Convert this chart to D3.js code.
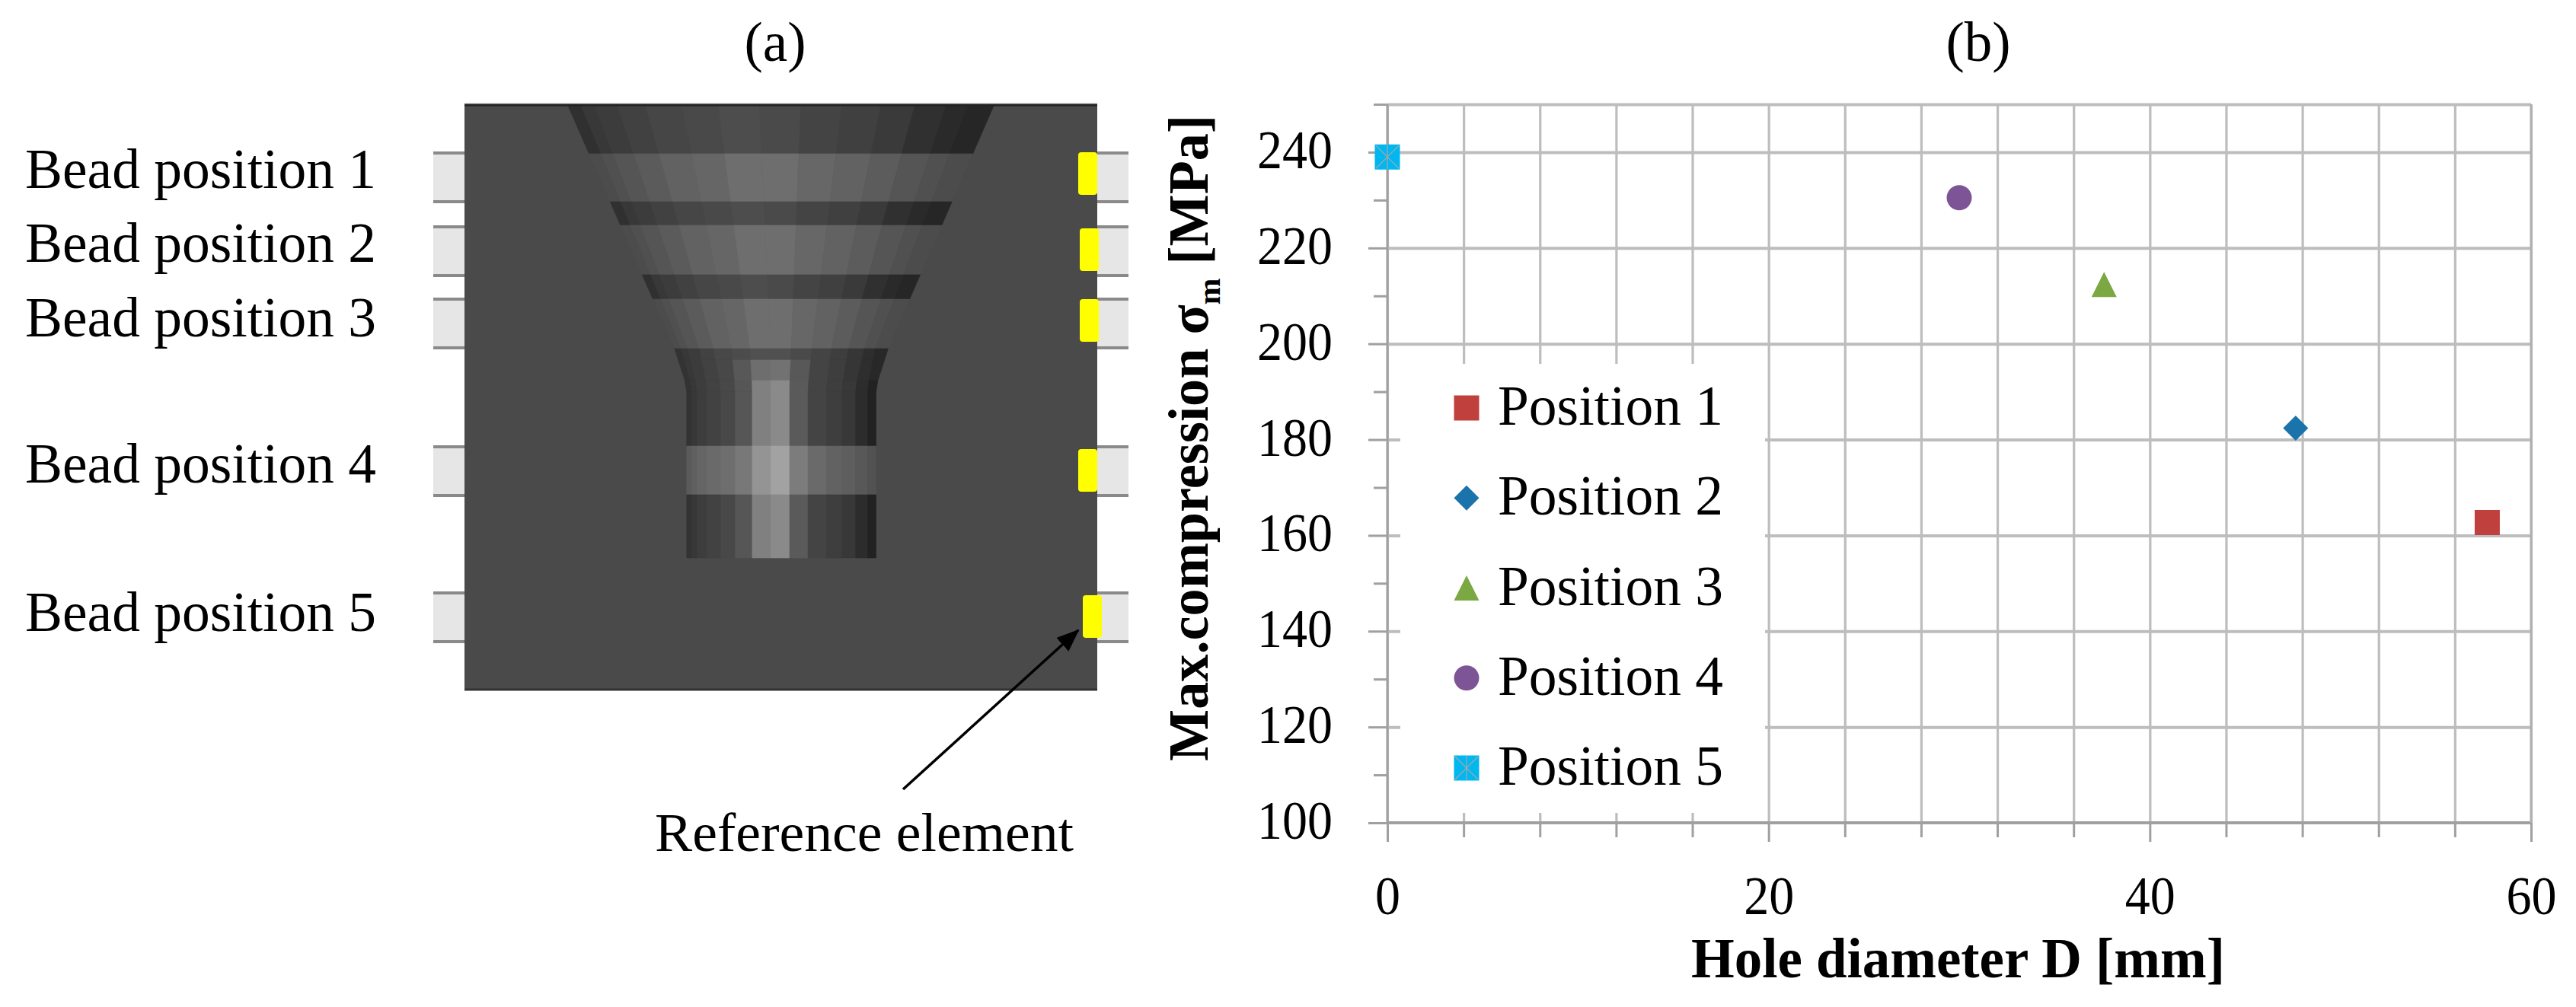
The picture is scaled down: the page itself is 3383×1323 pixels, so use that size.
<!DOCTYPE html>
<html>
<head>
<meta charset="utf-8">
<script src="https://d3js.org/d3.v7.min.js"></script>
<style>
  body { margin: 0; background: #fff; }
  text { font-family: "Liberation Serif", serif; fill: #000; }
</style>
</head>
<body>
<svg id="chart" width="3383" height="1323"></svg>
<script>
//chart data
var positions = ["Position 1", "Position 2", "Position 3", "Position 4", "Position 5"];
var holeDiameter = [57.7, 47.65, 37.6, 30.0, 0];
var maxCompression = [162.7, 182.4, 212.4, 230.5, 239];
var markerShapes = ["square", "diamond", "triangle", "circle", "star"];
var markerColors = ["#c0403d", "#1a73ab", "#7ba843", "#7d5596", "#00b7ef"];
var xMajor = [0, 20, 40, 60];
var xMinor = [4, 8, 12, 16, 24, 28, 32, 36, 44, 48, 52, 56];
var yMajor = [100, 120, 140, 160, 180, 200, 220, 240];
var yMinor = [110, 130, 150, 170, 190, 210, 230, 250];
var beadLabels = ["Bead position 1", "Bead position 2", "Bead position 3", "Bead position 4", "Bead position 5"];
var beadLabelBase = [247, 344, 442, 634, 829];

//panel (a) geometry in plate units
var beadTabs = [[64, 128], [161, 225], [256, 320], [450, 514], [642, 706]];
var refX = [806, 808, 808, 806, 812];
var refY = [63, 163, 256, 453, 645];
var coneTop = [135.5, 152.8, 170.6, 200.6, 237.6, 285.4, 333.2, 387.4, 441.7, 495.9, 546.9, 591.5, 633, 661.7, 695.5];
var shaftEdges = [291.8, 298.2, 305.2, 318.6, 336.4, 355.6, 377.9, 402.1, 427, 451.2, 475.5, 495.9, 513.7, 529.7, 540.5];
var coneDark = ["#303030", "#383838", "#3c3c3c", "#414141", "#464646", "#494949", "#4d4d4d", "#4a4a4a", "#444444", "#404040", "#3a3a3a", "#303030", "#2a2a2a", "#262626"];
var coneLight = ["#4c4c4c", "#505050", "#555555", "#5b5b5b", "#626262", "#666666", "#6e6e6e", "#6e6e6e", "#676767", "#626262", "#5c5c5c", "#555555", "#505050", "#4c4c4c"];
var neckDark = ["#333333", "#383838", "#3c3c3c", "#424242", "#484848", "#4c4c4c", "#505050", "#505050", "#4a4a4a", "#444444", "#3e3e3e", "#363636", "#2e2e2e", "#282828"];
var neckMid = ["#333333", "#383838", "#3c3c3c", "#424242", "#484848", "#585858", "#6e6e6e", "#727272", "#585858", "#444444", "#3e3e3e", "#363636", "#2e2e2e", "#282828"];
var shaftDark = ["#333333", "#383838", "#3d3d3d", "#424242", "#484848", "#565656", "#808080", "#8a8a8a", "#5a5a5a", "#444444", "#3e3e3e", "#383838", "#2c2c2c", "#222222"];
var shaftLight = ["#5a5a5a", "#606060", "#656565", "#6a6a6a", "#6e6e6e", "#787878", "#949494", "#a2a2a2", "#7c7c7c", "#6a6a6a", "#626262", "#5e5e5e", "#585858", "#525252"];

var svg = d3.select("#chart");

//panel (a)
var plateX = d3.scaleLinear().domain([0, 831]).range([610, 1441]);
var plateY = d3.scaleLinear().domain([0, 770]).range([137, 907]);

var a = svg.append("g");

//bead tabs behind the plate
[[-41, 0], [831, 872]].forEach(function (side) {
  beadTabs.forEach(function (t) {
    a.append("rect")
      .attr("x", plateX(side[0])).attr("y", plateY(t[0]))
      .attr("width", plateX(side[1]) - plateX(side[0]))
      .attr("height", plateY(t[1]) - plateY(t[0]))
      .attr("fill", "#e6e6e6");
    t.forEach(function (v) {
      a.append("line")
        .attr("x1", plateX(side[0])).attr("x2", plateX(side[1]))
        .attr("y1", plateY(v)).attr("y2", plateY(v))
        .attr("stroke", "#8a8a8a").attr("stroke-width", 4);
    });
  });
});

a.append("rect")
  .attr("x", plateX(0)).attr("y", plateY(0))
  .attr("width", 831).attr("height", 770)
  .attr("fill", "#4a4a4a");

//cone narrows to half its width at the neck
var coneToNeck = d3.scaleLinear().domain([135.5, 695.5]).range([275.8, 556.4]);
var coneEdgeAt = function (i, py) {
  var t = (py - 1) / (321 - 1);
  return coneTop[i] + (coneToNeck(coneTop[i]) - coneTop[i]) * t;
};
var neckEdgeAt = function (i, blend) {
  var n = coneToNeck(coneTop[i]);
  return n + (shaftEdges[i] - n) * blend;
};
var facet = function (x0, x1, x2, x3, y0, y1, color) {
  var pts = [[x0, y0], [x1, y0], [x2, y1], [x3, y1]]
    .map(function (p) { return [plateX(p[0]), plateY(p[1])]; });
  a.append("polygon").attr("points", pts.join(" "))
    .attr("fill", color).attr("stroke", color).attr("stroke-width", 0.6);
};

//cone rows, alternating dark and light bands
var coneRows = [[1, 65, coneDark], [65, 128, coneLight], [128, 159, coneDark], [159, 224, coneLight], [224, 256, coneDark], [256, 321, coneLight]];
coneRows.forEach(function (r) {
  r[2].forEach(function (c, i) {
    facet(coneEdgeAt(i, r[0]), coneEdgeAt(i + 1, r[0]), coneEdgeAt(i + 1, r[1]), coneEdgeAt(i, r[1]), r[0], r[1], c);
  });
});

//neck rows bend from the cone into the shaft
var neckRows = [[321, 336, 0, 0.3, neckDark], [336, 363, 0.3, 0.85, neckMid], [363, 378, 0.85, 1, shaftDark]];
neckRows.forEach(function (r) {
  r[4].forEach(function (c, i) {
    facet(neckEdgeAt(i, r[2]), neckEdgeAt(i + 1, r[2]), neckEdgeAt(i + 1, r[3]), neckEdgeAt(i, r[3]), r[0], r[1], c);
  });
});

//straight shaft
var shaftRows = [[378, 449, shaftDark], [449, 513, shaftLight], [513, 596, shaftDark]];
shaftRows.forEach(function (r) {
  r[2].forEach(function (c, i) {
    facet(shaftEdges[i], shaftEdges[i + 1], shaftEdges[i + 1], shaftEdges[i], r[0], r[1], c);
  });
});

//plate edges
a.append("line").attr("x1", plateX(0)).attr("x2", plateX(831)).attr("y1", plateY(-1)).attr("y2", plateY(-1))
  .attr("stroke", "#d8d8d8").attr("stroke-width", 2);
a.append("line").attr("x1", plateX(0)).attr("x2", plateX(831)).attr("y1", plateY(1)).attr("y2", plateY(1))
  .attr("stroke", "#222").attr("stroke-width", 3);
a.append("line").attr("x1", plateX(0)).attr("x2", plateX(831)).attr("y1", plateY(769)).attr("y2", plateY(769))
  .attr("stroke", "#333").attr("stroke-width", 3);

//reference elements
refX.forEach(function (rx, i) {
  a.append("rect")
    .attr("x", plateX(rx)).attr("y", plateY(refY[i]))
    .attr("width", 25).attr("height", 56).attr("rx", 4)
    .attr("fill", "#ffff00");
});

a.selectAll(".bead-label").data(beadLabels).enter().append("text")
  .attr("class", "bead-label")
  .attr("x", 33)
  .attr("y", function (d, i) { return beadLabelBase[i]; })
  .attr("font-size", 74)
  .attr("textLength", 461).attr("lengthAdjust", "spacingAndGlyphs")
  .text(function (d) { return d; });

//arrow to the reference element
svg.append("defs").append("marker")
  .attr("id", "arrowhead").attr("markerUnits", "userSpaceOnUse")
  .attr("viewBox", "0 0 30 24").attr("refX", 28).attr("refY", 12)
  .attr("markerWidth", 30).attr("markerHeight", 24).attr("orient", "auto")
  .append("path").attr("d", "M0,0L30,12L0,24Z").attr("fill", "#000");
a.append("line")
  .attr("x1", 1186).attr("y1", 1037).attr("x2", 1416).attr("y2", 828)
  .attr("stroke", "#000").attr("stroke-width", 3.5)
  .attr("marker-end", "url(#arrowhead)");

a.append("text").attr("x", 860).attr("y", 1118)
  .attr("font-size", 72).attr("textLength", 550).attr("lengthAdjust", "spacingAndGlyphs")
  .text("Reference element");

//panel titles
svg.append("text").attr("x", 1018).attr("y", 80).attr("text-anchor", "middle").attr("font-size", 73).text("(a)");
svg.append("text").attr("x", 2598).attr("y", 80).attr("text-anchor", "middle").attr("font-size", 73).text("(b)");

//panel (b)
var x = d3.scaleLinear().domain([0, 60]).range([1822, 3324]);
var y = d3.scaleLinear().domain([100, 250]).range([1081, 137]);
var plotW = x(60) - x(0), plotH = y(100) - y(250);

var b = svg.append("g");

var styleAxis = function (g, color, width) {
  g.select(".domain").remove();
  g.selectAll("line").attr("stroke", color).attr("stroke-width", width);
};

//grid
b.append("g").attr("transform", "translate(0," + y(100) + ")")
  .call(d3.axisBottom(x).tickValues(xMajor.concat(xMinor)).tickSize(-plotH).tickFormat(""))
  .call(styleAxis, "#bdbdbd", 3.2);
b.append("g").attr("transform", "translate(" + x(0) + ",0)")
  .call(d3.axisLeft(y).tickValues(yMajor.slice(1).concat([250])).tickSize(-plotW).tickFormat(""))
  .call(styleAxis, "#bdbdbd", 4);

//legend box hides the grid behind it
b.append("rect").attr("x", 1839).attr("y", 478).attr("width", 479).attr("height", 590).attr("fill", "#fff");

//tick labels squeezed a little, the original face is narrower
var styleLabels = function (g) {
  g.selectAll("text")
    .attr("font-size", 71).attr("font-family", "Liberation Serif").attr("fill", "#000")
    .attr("lengthAdjust", "spacingAndGlyphs")
    .attr("textLength", function (d) { return String(d).length * 33; });
};

//axes
b.append("g").attr("transform", "translate(0," + y(100) + ")")
  .call(d3.axisBottom(x).tickValues(xMajor).tickSize(25).tickPadding(45))
  .call(styleAxis, "#a0a0a0", 3)
  .call(styleLabels);
b.append("g").attr("transform", "translate(0," + y(100) + ")")
  .call(d3.axisBottom(x).tickValues(xMinor).tickSize(19).tickFormat(""))
  .call(styleAxis, "#a0a0a0", 3);
b.append("g").attr("transform", "translate(" + x(0) + ",0)")
  .call(d3.axisLeft(y).tickValues(yMajor).tickSize(25).tickPadding(47))
  .call(styleAxis, "#a0a0a0", 3)
  .call(styleLabels)
  .selectAll("text").attr("dy", "0.29em");
b.append("g").attr("transform", "translate(" + x(0) + ",0)")
  .call(d3.axisLeft(y).tickValues(yMinor).tickSize(18).tickFormat(""))
  .call(styleAxis, "#a0a0a0", 3);
b.append("line").attr("x1", x(0)).attr("x2", x(0)).attr("y1", y(250)).attr("y2", y(100)).attr("stroke", "#a0a0a0").attr("stroke-width", 3);
b.append("line").attr("x1", x(0)).attr("x2", x(60)).attr("y1", y(100)).attr("y2", y(100)).attr("stroke", "#a0a0a0").attr("stroke-width", 4);
b.append("line").attr("x1", x(60)).attr("x2", x(60)).attr("y1", y(250)).attr("y2", y(100)).attr("stroke", "#b0b0b0").attr("stroke-width", 3);

//axis titles
b.append("text").attr("x", 2221).attr("y", 1284)
  .attr("font-size", 74).attr("font-weight", "bold")
  .attr("textLength", 701).attr("lengthAdjust", "spacingAndGlyphs")
  .text("Hole diameter D [mm]");

var yTitle = b.append("text")
  .attr("transform", "translate(1586,1000) rotate(-90)")
  .attr("font-size", 73).attr("font-weight", "bold")
  .attr("textLength", 849).attr("lengthAdjust", "spacingAndGlyphs");
yTitle.append("tspan").text("Max.compression σ");
yTitle.append("tspan").attr("dy", 16).attr("font-size", 42).text("m");
yTitle.append("tspan").attr("dy", -16).text(" [MPa]");

//markers
var markerPath = function (shape, s) {
  var r = s / 2;
  if (shape === "diamond") return "M0," + (-r) + "L" + r + ",0L0," + r + "L" + (-r) + ",0Z";
  if (shape === "triangle") return "M0," + (-r) + "L" + r + "," + r + "L" + (-r) + "," + r + "Z";
  if (shape === "circle") return d3.symbol().type(d3.symbolCircle).size(Math.PI * r * r)();
  return d3.symbol().type(d3.symbolSquare).size(s * s)();
};
var drawMarker = function (g, i) {
  g.append("path").attr("d", markerPath(markerShapes[i], 33)).attr("fill", markerColors[i]);
  if (markerShapes[i] === "star") {
    g.append("path").attr("d", "M-15,-15L15,15M15,-15L-15,15M0,-16V16")
      .attr("stroke", "#8fa9b8").attr("stroke-width", 1.5).attr("fill", "none");
  }
};

positions.forEach(function (d, i) {
  b.append("g")
    .attr("transform", "translate(" + x(holeDiameter[i]) + "," + y(maxCompression[i]) + ")")
    .call(drawMarker, i);
});

//legend
var legendY = d3.scalePoint().domain(positions).range([536, 1009]);
positions.forEach(function (d, i) {
  b.append("g")
    .attr("transform", "translate(1926," + legendY(d) + ")")
    .call(drawMarker, i);
  b.append("text")
    .attr("x", 1967).attr("y", legendY(d) + 22)
    .attr("font-size", 74)
    .attr("textLength", 296).attr("lengthAdjust", "spacingAndGlyphs")
    .text(d);
});
</script>
</body>
</html>
